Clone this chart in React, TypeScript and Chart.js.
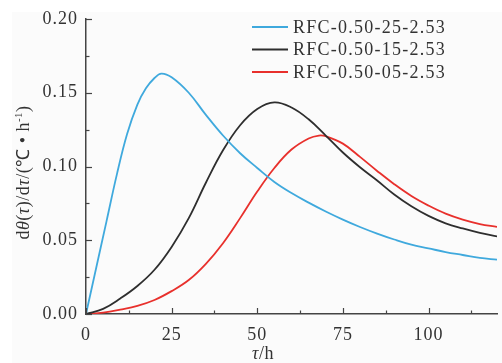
import React, { useEffect, useRef } from "react";
import { Chart, registerables } from "chart.js";

Chart.register(...registerables);

// ---- data ----
const seriesLabels = ["RFC-0.50-25-2.53", "RFC-0.50-15-2.53", "RFC-0.50-05-2.53"];
const seriesColors = ["#3fa9dd", "#2e2e2e", "#e8302c"];

const blueX = [0, 3, 6, 9, 12, 15, 17.5, 20, 22, 25, 30, 35, 40, 45, 50, 55, 60, 65, 70, 75, 80, 85, 90, 95, 100, 105, 110, 115, 120];
const blueY = [0, 0.0315, 0.063, 0.0945, 0.122, 0.142, 0.153, 0.16, 0.163, 0.1605, 0.15, 0.135, 0.121, 0.109, 0.099, 0.0895, 0.082, 0.0755, 0.0695, 0.064, 0.059, 0.0545, 0.0505, 0.047, 0.0445, 0.042, 0.04, 0.038, 0.0368];

const blackX = [0, 5, 10, 15, 20, 25, 30, 35, 40, 45, 50, 55, 60, 65, 70, 75, 80, 85, 90, 95, 100, 105, 110, 115, 120];
const blackY = [0, 0.0035, 0.0105, 0.019, 0.03, 0.0455, 0.065, 0.089, 0.111, 0.128, 0.139, 0.1435, 0.14, 0.132, 0.121, 0.1095, 0.0995, 0.0905, 0.081, 0.073, 0.0665, 0.0615, 0.058, 0.055, 0.0526];

const redX = [0, 5, 10, 15, 20, 25, 30, 35, 40, 45, 50, 55, 60, 65, 68, 70, 75, 80, 85, 90, 95, 100, 105, 110, 115, 120];
const redY = [0, 0.001, 0.003, 0.0055, 0.0095, 0.0155, 0.023, 0.034, 0.048, 0.065, 0.083, 0.099, 0.1115, 0.119, 0.121, 0.1205, 0.1155, 0.1065, 0.097, 0.088, 0.08, 0.0735, 0.068, 0.064, 0.061, 0.059];

const xTicks = [0, 25, 50, 75, 100];
const xMinorTicks = [12.5, 37.5, 62.5, 87.5, 112.5];
const yTicks = [0, 0.05, 0.1, 0.15, 0.2];
const yMinorTicks = [0.025, 0.075, 0.125, 0.175];

const FONT = "'Liberation Serif', 'Times New Roman', serif";
const AXIS_COLOR = "#444444";
const TEXT_COLOR = "#333333";

const toPoints = (xs: number[], ys: number[]) => xs.map((x, i) => ({ x, y: ys[i] }));

// draw a list of [text, style] segments; style: 'n' normal, 'i' italic, 's' superscript
function drawSegments(ctx: CanvasRenderingContext2D, segs: [string, string][], size: number, cx: number, cy: number) {
  const fontFor = (s: string) =>
    s === "i" ? `italic ${size}px ${FONT}` : s === "s" ? `${Math.round(size * 0.6)}px ${FONT}` : `${size}px ${FONT}`;
  let total = 0;
  const widths = segs.map(([t, s]) => {
    ctx.font = fontFor(s);
    const w = ctx.measureText(t).width;
    total += w;
    return w;
  });
  let x = cx - total / 2;
  ctx.textBaseline = "alphabetic";
  ctx.textAlign = "left";
  segs.forEach(([t, s], i) => {
    ctx.font = fontFor(s);
    ctx.fillText(t, x, s === "s" ? cy - size * 0.38 : cy);
    x += widths[i];
  });
}

const decorPlugin = {
  id: "decor",
  beforeDraw(chart: any) {
    const { ctx, width, height } = chart;
    ctx.save();
    ctx.fillStyle = "#ffffff";
    ctx.fillRect(0, 0, width, height);
    ctx.fillStyle = "#fbfbfb";
    ctx.fillRect(12, 12, width - 12, height - 12);
    ctx.restore();
    (ctx as any).letterSpacing = "1px";
  },
  afterDraw(chart: any) {
    const { ctx, chartArea } = chart;
    const xs = chart.scales.x;
    const ys = chart.scales.y;
    ctx.save();
    ctx.strokeStyle = AXIS_COLOR;
    ctx.lineWidth = 1.2;
    // inner ticks
    const drawX = (vals: number[], len: number) =>
      vals.forEach((v) => {
        const px = Math.round(xs.getPixelForValue(v)) + 0.5;
        ctx.beginPath();
        ctx.moveTo(px, chartArea.bottom);
        ctx.lineTo(px, chartArea.bottom - len);
        ctx.stroke();
      });
    const drawY = (vals: number[], len: number) =>
      vals.forEach((v) => {
        const py = Math.round(ys.getPixelForValue(v)) + 0.5;
        ctx.beginPath();
        ctx.moveTo(chartArea.left, py);
        ctx.lineTo(chartArea.left + len, py);
        ctx.stroke();
      });
    drawX(xTicks, 6);
    drawX(xMinorTicks, 3.5);
    drawY(yTicks, 6);
    drawY(yMinorTicks, 3.5);

    // legend
    ctx.textBaseline = "middle";
    ctx.textAlign = "left";
    ctx.font = `18px ${FONT}`;
    (ctx as any).letterSpacing = "1.25px";
    chart.data.datasets.forEach((ds: any, i: number) => {
      const y = chartArea.top + 8 + i * 22.5;
      ctx.strokeStyle = ds.borderColor;
      ctx.lineWidth = 1.8;
      ctx.beginPath();
      ctx.moveTo(chartArea.left + 166, y);
      ctx.lineTo(chartArea.left + 202, y);
      ctx.stroke();
      ctx.fillStyle = TEXT_COLOR;
      ctx.fillText(ds.label, chartArea.left + 207, y + 1);
    });

    // axis titles
    (ctx as any).letterSpacing = "0.5px";
    ctx.fillStyle = TEXT_COLOR;
    drawSegments(ctx, [["τ", "i"], ["/h", "n"]], 18, chartArea.left + 177, 359);
    ctx.translate(29, (chartArea.top + chartArea.bottom) / 2 + 6);
    ctx.rotate(-Math.PI / 2);
    drawSegments(
      ctx,
      [
        ["d", "n"],
        ["θ", "i"],
        ["(", "n"],
        ["τ", "i"],
        [")/d", "n"],
        ["τ", "i"],
        ["/(℃ • h", "n"],
        ["-1", "s"],
        [")", "n"],
      ],
      18,
      0,
      0
    );
    ctx.restore();
  },
};

export default function App() {
  const ref = useRef<HTMLCanvasElement | null>(null);
  useEffect(() => {
    document.body.style.margin = "0";
    if (!ref.current) return;
    const xsArr = [blueX, blackX, redX];
    const ysArr = [blueY, blackY, redY];
    const chart = new Chart(ref.current, {
      type: "line",
      data: {
        datasets: seriesLabels.map((label, i) => ({
          label,
          data: toPoints(xsArr[i], ysArr[i]),
          borderColor: seriesColors[i],
          backgroundColor: seriesColors[i],
          borderWidth: 1.8,
          pointRadius: 0,
          fill: false,
          tension: 0.4,
        })),
      },
      options: {
        animation: false,
        responsive: false,
        maintainAspectRatio: false,
        layout: { padding: { left: 0, right: 5, top: 19, bottom: 0 } },
        plugins: { legend: { display: false }, tooltip: { enabled: false } },
        scales: {
          x: {
            type: "linear",
            min: 0,
            max: 120,
            afterBuildTicks: (s: any) => {
              s.ticks = xTicks.map((v) => ({ value: v }));
            },
            afterFit: (s: any) => {
              s.height = 49;
            },
            ticks: {
              font: { family: FONT, size: 18 },
              color: TEXT_COLOR,
              padding: 10,
              maxRotation: 0,
              autoSkip: false,
            },
            grid: { drawOnChartArea: false, drawTicks: false },
            border: { display: true, color: AXIS_COLOR, width: 1.5 },
          },
          y: {
            type: "linear",
            min: 0,
            max: 0.2,
            afterBuildTicks: (s: any) => {
              s.ticks = yTicks.map((v) => ({ value: v }));
            },
            afterFit: (s: any) => {
              s.width = 86;
            },
            ticks: {
              font: { family: FONT, size: 18 },
              color: TEXT_COLOR,
              padding: 8,
              callback: (v: any) => Number(v).toFixed(2),
            },
            grid: { drawOnChartArea: false, drawTicks: false },
            border: { display: true, color: AXIS_COLOR, width: 1.5 },
          },
        },
      },
      plugins: [decorPlugin],
    });
    return () => chart.destroy();
  }, []);
  return (
    <div style={{ width: 502, height: 363 }}>
      <canvas ref={ref} width={502} height={363} />
    </div>
  );
}
